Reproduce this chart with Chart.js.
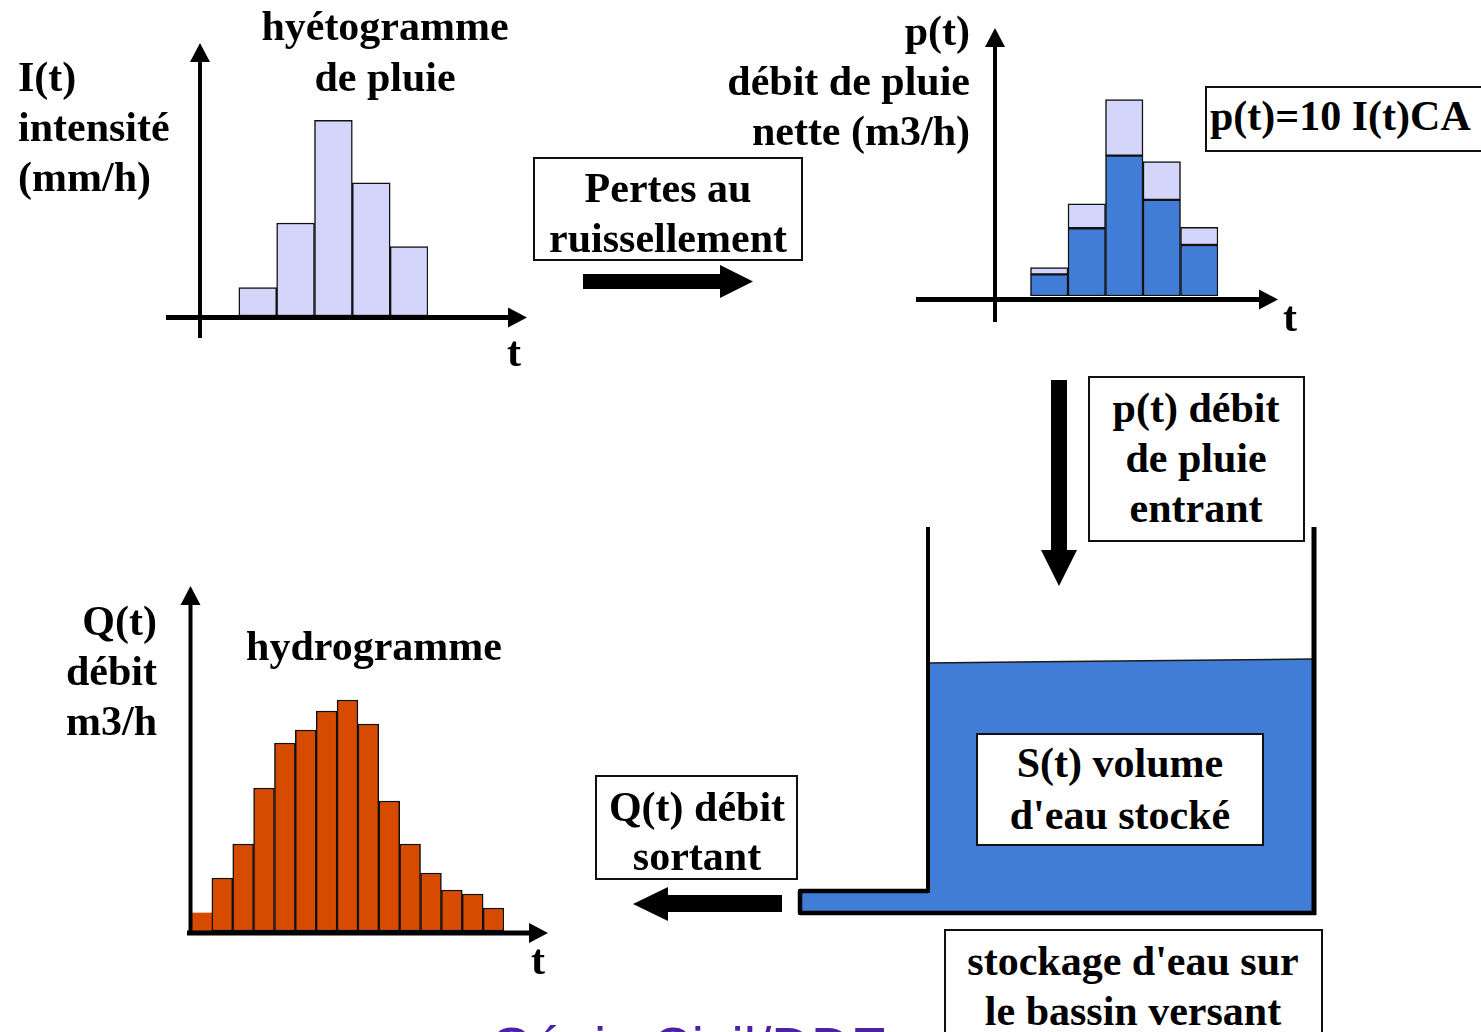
<!DOCTYPE html>
<html lang="fr">
<head>
<meta charset="utf-8">
<script src="https://cdn.jsdelivr.net/npm/chart.js@4/dist/chart.umd.min.js"></script>
<style>
  html, body { margin:0; padding:0; background:#fff; }
  body { width:1481px; height:1032px; position:relative; overflow:hidden; }
  canvas.full { position:absolute; left:0; top:0; }
  svg { position:absolute; left:0; top:0; }
  .box { position:absolute; border:2px solid #111; background:#fff; box-sizing:border-box; }
  .t { position:absolute; font-family:"Liberation Serif","Times New Roman",serif; font-weight:bold; font-size:42px; line-height:50px; white-space:pre; color:#000; }
  .c { transform:translateX(-50%); text-align:center; }
  .r { text-align:right; }
  .wm { position:absolute; font-family:"Liberation Sans",Arial,sans-serif; font-size:55px; line-height:55px; color:#4B22A6; white-space:pre; }
</style>
</head>
<body>

<svg width="1481" height="1032" viewBox="0 0 1481 1032">
  <!-- flèche pertes -->
  <polygon points="583,274 720,274 720,265 753,281.5 720,298 720,289 583,289" fill="#000"/>
  <!-- flèche entrée -->
  <polygon points="1051,380 1067,380 1067,550 1077,550 1059,586 1041,550 1051,550" fill="#000"/>
  <!-- flèche sortie -->
  <polygon points="782,895 668,895 668,887 633,904 668,921 668,912 782,912" fill="#000"/>
  <!-- réservoir -->
  <polygon points="929,663 1313,659 1313,912 801,912 801,892 929,892" fill="#417CD6"/>
  <line x1="928" y1="663" x2="1314" y2="659" stroke="#1a1a1a" stroke-width="1.5"/>
  <line x1="928" y1="527" x2="928" y2="893" stroke="#000" stroke-width="4"/>
  <line x1="1314" y1="527" x2="1314" y2="915" stroke="#000" stroke-width="5"/>
  <polyline points="928,891 800,891 800,913 1316,913" fill="none" stroke="#000" stroke-width="4.5" stroke-linejoin="round"/>
</svg>

<canvas id="c1" class="full" width="1481" height="1032"></canvas>
<canvas id="c2" class="full" width="1481" height="1032"></canvas>
<canvas id="c3" class="full" width="1481" height="1032"></canvas>

<div class="box" style="left:533px;top:157px;width:270px;height:104px;"></div>
<div class="box" style="left:1205px;top:86px;width:290px;height:66px;"></div>
<div class="box" style="left:1088px;top:376px;width:217px;height:166px;"></div>
<div class="box" style="left:976px;top:733px;width:288px;height:113px;"></div>
<div class="box" style="left:595px;top:775px;width:203px;height:105px;"></div>
<div class="box" style="left:944px;top:929px;width:379px;height:120px;"></div>

<div class="t" style="left:18px;top:52px;">I(t)
intensité
(mm/h)</div>
<div class="t c" style="left:385px;top:1px;line-height:51px;">hyétogramme
de pluie</div>
<div class="t c" style="left:668px;top:163px;">Pertes au
ruissellement</div>
<div class="t r" style="right:511px;top:6px;">p(t)
débit de pluie
nette (m3/h)</div>
<div class="t" style="left:1210px;top:91px;">p(t)=10 I(t)CA</div>
<div class="t c" style="left:1196px;top:383px;">p(t) débit
de pluie
entrant</div>
<div class="t c" style="left:1120px;top:737px;line-height:52px;">S(t) volume
d'eau stocké</div>
<div class="t c" style="left:697px;top:783px;line-height:49px;">Q(t) débit
sortant</div>
<div class="t c" style="left:1133px;top:936px;">stockage d'eau sur
le bassin versant</div>
<div class="t r" style="right:1324px;top:596px;">Q(t)
débit
m3/h</div>
<div class="t c" style="left:374px;top:621px;">hydrogramme</div>
<div class="t" style="left:507px;top:327px;">t</div>
<div class="t" style="left:1283px;top:292px;">t</div>
<div class="t" style="left:531px;top:935px;">t</div>
<div class="wm" style="left:490px;top:1020px;">Génie Civil/DDE</div>

<script>
// ---- Données ----
const hyetoLabels = ['', 't1', 't2', 't3', 't4', 't5'];
const intensite   = [null, 2.9, 9.5, 20.0, 13.6, 7.1];      // I(t) mm/h

const pluieLabels = ['', 't1', 't2', 't3', 't4', 't5'];
const pluieNette  = [null, 22, 69, 143, 98, 52];             // p(t) nette m3/h
const pertes      = [null, 7, 25, 57, 39, 18];               // pertes au ruissellement

const hydroLabels = ['t1','t2','t3','t4','t5','t6','t7','t8','t9','t10','t11','t12','t13','t14','t15'];
const debitQ      = [1.8, 5.3, 8.7, 14.3, 18.8, 20.1, 22.0, 23.1, 20.7, 13.0, 8.7, 5.8, 4.1, 3.7, 2.3]; // Q(t) m3/h

// ---- Axes fléchés ----
const arrowAxes = {
  id: 'arrowAxes',
  afterDatasetsDraw(chart, args, o) {
    const a = chart.chartArea, ctx = chart.ctx;
    const hl = 19, hw = 10;
    ctx.save();
    ctx.fillStyle = '#000'; ctx.strokeStyle = '#000';
    // axe vertical
    const yx = a.left + o.dx, tipY = a.top - o.a;
    ctx.lineWidth = 4;
    ctx.beginPath(); ctx.moveTo(yx, a.bottom + o.b); ctx.lineTo(yx, tipY + hl - 1); ctx.stroke();
    ctx.beginPath(); ctx.moveTo(yx, tipY); ctx.lineTo(yx - hw, tipY + hl); ctx.lineTo(yx + hw, tipY + hl); ctx.closePath(); ctx.fill();
    // axe horizontal
    const xy = a.bottom + o.c, tipX = a.right + o.e;
    ctx.lineWidth = 5;
    ctx.beginPath(); ctx.moveTo(a.left - o.d, xy); ctx.lineTo(tipX - hl + 1, xy); ctx.stroke();
    ctx.beginPath(); ctx.moveTo(tipX, xy); ctx.lineTo(tipX - hl, xy - hw); ctx.lineTo(tipX - hl, xy + hw); ctx.closePath(); ctx.fill();
    ctx.restore();
  }
};

function baseOptions(pad, ymax, axes, stacked) {
  return {
    responsive: false, animation: false, events: [],
    layout: { padding: pad },
    plugins: { legend: { display: false }, tooltip: { enabled: false }, arrowAxes: axes },
    scales: {
      x: { display: false, stacked: !!stacked, grid: { display: false } },
      y: { display: false, stacked: !!stacked, min: 0, max: ymax, grid: { display: false } }
    }
  };
}

const W = 1481, H = 1032;

new Chart(document.getElementById('c1'), {
  type: 'bar',
  data: { labels: hyetoLabels, datasets: [{
    data: intensite, backgroundColor: '#D4D5FA', borderColor: '#111', borderWidth: 1.5,
    borderSkipped: false, barPercentage: 1, categoryPercentage: 1
  }]},
  options: baseOptions({ left: 201, top: 42, right: W - 428, bottom: H - 316 }, 28,
    { dx: -1, a: -1, b: 22, c: 1.5, d: 35, e: 99 }),
  plugins: [arrowAxes]
});

new Chart(document.getElementById('c2'), {
  type: 'bar',
  data: { labels: pluieLabels, datasets: [
    { data: pluieNette, backgroundColor: '#417CD6', borderColor: '#111', borderWidth: 1.5,
      borderSkipped: false, barPercentage: 1, categoryPercentage: 1 },
    { data: pertes, backgroundColor: '#D4D5FA', borderColor: '#111', borderWidth: 1.5,
      borderSkipped: false, barPercentage: 1, categoryPercentage: 1 }
  ]},
  options: baseOptions({ left: 993, top: 31, right: W - 1218, bottom: H - 296 }, 270,
    { dx: 2, a: 3, b: 26, c: 3.5, d: 77, e: 60 }, true),
  plugins: [arrowAxes]
});

new Chart(document.getElementById('c3'), {
  type: 'bar',
  data: { labels: hydroLabels, datasets: [{
    data: debitQ, backgroundColor: '#D64B00', borderColor: '#111',
    borderWidth: (ctx) => ctx.dataIndex === 0 ? 0 : 1.5,
    borderSkipped: false, barPercentage: 1, categoryPercentage: 1
  }]},
  options: baseOptions({ left: 191, top: 591, right: W - 504, bottom: H - 931 }, 34,
    { dx: -0.5, a: 5, b: 4, c: 2, d: 4, e: 44 }),
  plugins: [arrowAxes]
});
</script>
</body>
</html>
